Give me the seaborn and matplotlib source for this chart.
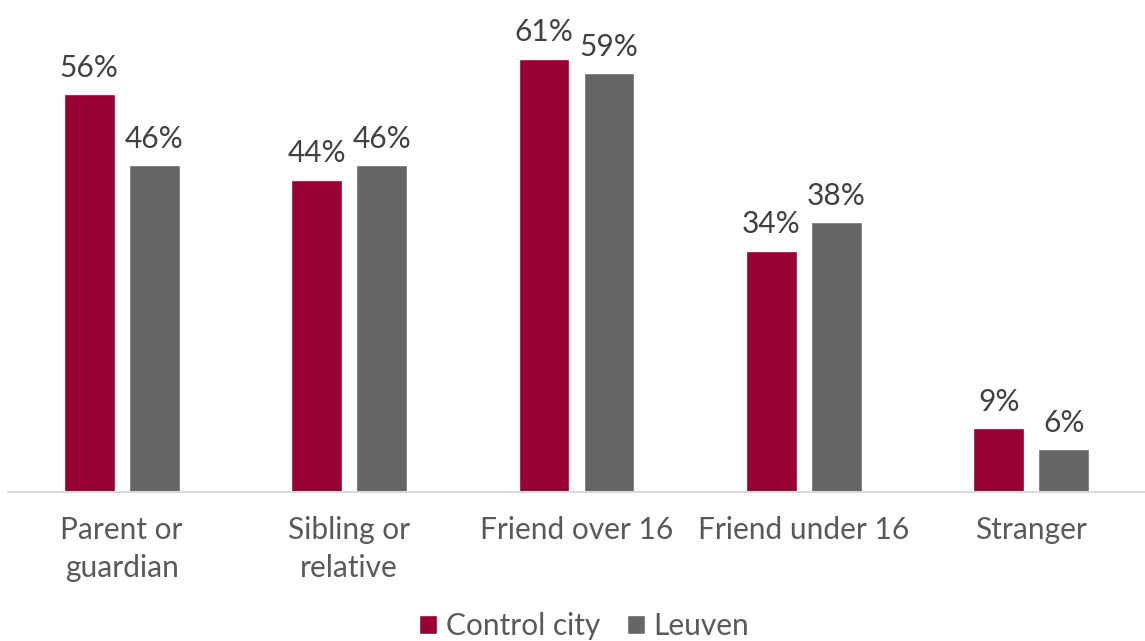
import matplotlib
matplotlib.use("Agg")
import matplotlib.pyplot as plt
import seaborn as sns
import pandas as pd

categories = ["Parent or\nguardian", "Sibling or\nrelative", "Friend over 16",
              "Friend under 16", "Stranger"]
control_city = [56, 44, 61, 34, 9]
leuven = [46, 46, 59, 38, 6]
series_names = ["Control city", "Leuven"]
colors = ["#990033", "#666666"]

df = pd.DataFrame({
    "category": categories * 2,
    "value": control_city + leuven,
    "series": [series_names[0]] * len(categories) + [series_names[1]] * len(categories),
})

sns.set_theme(style="white")
plt.rcParams["font.family"] = ["Lato", "DejaVu Sans"]

W, H = 1145, 641
fig = plt.figure(figsize=(W / 100, H / 100), dpi=100)
ax = fig.add_axes([8 / W, (H - 492) / H, 1137 / W, 461.5 / H])

sns.barplot(data=df, x="category", y="value", hue="series", order=categories,
            hue_order=series_names, palette=colors, width=0.572, gap=0.217,
            saturation=1, ax=ax, legend=True)

ax.set_ylim(0, 65)
ax.set_xlim(-0.5, len(categories) - 0.5)
for c in ax.containers:
    ax.bar_label(c, labels=[f"{v:.0f}%" for v in c.datavalues], padding=9,
                 fontsize=21.5, color="#404040", clip_on=False)

ax.set_xlabel("")
ax.set_ylabel("")
ax.set_yticks([])
for s in ["left", "right", "top"]:
    ax.spines[s].set_visible(False)
ax.spines["bottom"].set_color("#d9d9d9")
ax.spines["bottom"].set_linewidth(1.5)
ax.tick_params(axis="x", length=0, pad=17, labelsize=21.5, labelcolor="#595959")
for lbl in ax.get_xticklabels():
    lbl.set_linespacing(1.45)

ax.legend_.remove()
handles, labels = ax.get_legend_handles_labels()
fig.legend(handles, labels, loc="center", bbox_to_anchor=(584 / W, 1 - 626 / H),
           ncol=2, frameon=False, fontsize=21.5, labelcolor="#595959",
           handlelength=0.6, handleheight=0.6, handletextpad=0.3, columnspacing=0.9)

fig.savefig("out.png", dpi=100)
